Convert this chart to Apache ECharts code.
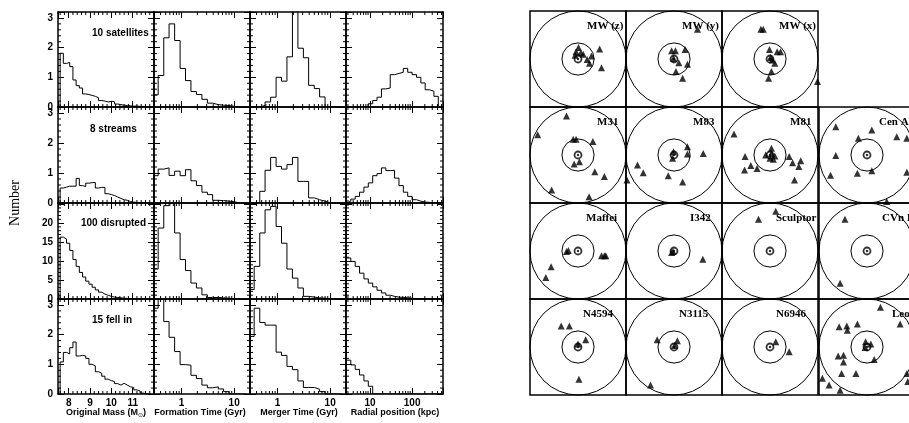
<!DOCTYPE html>
<html><head><meta charset="utf-8">
<script src="https://cdn.jsdelivr.net/npm/echarts@6/dist/echarts.min.js"></script>
<style>html,body{margin:0;padding:0;background:#fff}#c{width:909px;height:423px}</style>
</head><body><div id="c"></div>
<script>
// ---------------- DATA ----------------
// histogram bin edges
const massEdges = [7.6,7.75,7.9,8.05,8.2,8.35,8.5,8.65,8.8,8.95,9.1,9.25,9.4,9.55,9.7,9.85,10.0,10.15,10.3,10.45,10.6,10.75,10.9,11.05,11.2,11.35,11.5,11.65,11.8];
const timeEdges = [0.3,0.36,0.46,0.58,0.74,0.94,1.19,1.51,1.92,2.44,3.1,3.9,5.0,6.3,8.0,10.2,12.9,16.4];
const radEdges  = [2.76,3.51,4.46,5.66,7.19,9.13,11.6,14.7,18.7,23.8,30.2,38.3,48.7,61.8,78.5,99.7,127,161,204,259,329,418,531];

// row labels
const rowLabels = ['10 satellites','8 streams','100 disrupted','15 fell in'];
const colTitles = ['Original Mass','Formation Time (Gyr)','Merger Time (Gyr)','Radial position (kpc)'];
const yTickLabels = [['0','1','2','3'],['0','1','2','3'],['0','5','10','15','20'],['0','1','2','3']];

// Original mass histograms
const mass_sat  = [1.24,1.81,1.47,1.50,1.36,0.91,0.72,0.64,0.44,0.42,0.39,0.36,0.31,0.22,0.20,0.17,0.19,0.18,0.10,0.08,0.06,0.05,0.04,0.03,0.03,0.02,0.02,0.01];
const mass_str  = [0.13,0.5,0.53,0.56,0.56,0.56,0.82,0.58,0.55,0.66,0.68,0.68,0.5,0.52,0.52,0.31,0.28,0.25,0.2,0.15,0.11,0.09,0.05,0.03,0.02,0.01,0.01,0];
const mass_dis  = [11.5,16.3,15.8,14.7,12.8,10.4,8.6,7.0,5.8,4.7,3.9,3.1,2.4,1.8,1.3,1.0,0.7,0.5,0.4,0.3,0.2,0.15,0.1,0.05,0.03,0.02,0,0];
const mass_fell = [0.8,1.08,1.4,1.35,1.56,1.75,1.28,1.3,1.28,1.2,1.0,0.95,0.75,0.7,0.6,0.5,0.45,0.42,0.35,0.3,0.36,0.3,0.24,0.22,0.14,0.1,0.03,0];
// Formation time histograms
const form_sat  = [0.05,0.41,1.06,2.33,2.8,2.24,1.3,0.89,0.52,0.42,0.26,0.13,0.08,0.06,0.05,0.02,0];
const form_str  = [0.11,0.91,1.13,1.17,0.92,1.06,0.91,1.11,0.74,0.58,0.36,0.28,0.09,0.08,0.06,0.04,0];
const form_dis  = [2,7.9,18.7,24.6,28,17.4,10.4,7.5,4.2,2.9,1.1,0.4,0.4,0.3,0.2,0.1,0];
const form_fell = [2.97,2.89,3.6,2.44,1.91,1.43,0.99,0.97,0.63,0.52,0.3,0.21,0.24,0.17,0.08,0,0];
// Merger time histograms
const merg_sat  = [0,0,0,0.05,0.17,0.33,1.0,0.87,1.69,3.6,1.98,1.66,0.73,0.62,0.34,0,0];
const merg_str  = [0,0,0,0.39,1.09,1.52,1.22,1.13,1.28,1.52,0.72,0.72,0.17,0.11,0.06,0,0];
const merg_dis  = [0.7,2.5,8.6,17.4,23.5,24.4,19.1,14.7,7.9,5.5,2.9,0.7,0.5,0.3,0.2,0.1,0];
const merg_fell = [1.74,1.94,2.89,2.41,2.32,2.32,1.41,1.3,0.93,0.82,0.44,0.22,0.22,0.16,0.08,0,0];
// Radial position histograms
const rad_sat  = [0,0,0,0,0,0,0.11,0.22,0.33,0.61,0.64,1.09,1.13,1.17,1.3,1.17,1.09,1.0,0.81,0.58,0.53,0.36];
const rad_str  = [0.02,0.06,0.13,0.22,0.36,0.53,0.67,0.91,0.98,1.17,1.08,1.09,0.83,0.58,0.36,0.22,0.11,0.06,0.03,0.02,0.01,0];
const rad_dis  = [12.5,10.8,9.9,8.6,6.8,5.3,4.2,3.2,2.3,1.6,1.0,0.7,0.5,0.4,0.3,0.2,0.1,0.05,0,0,0,0];
const rad_fell = [1.76,1.14,0.98,0.83,0.64,0.44,0.26,0,0,0,0,0,0,0,0,0,0,0,0,0,0,0];

// Right panel: system names and satellite positions (in units of the outer circle radius)
const cellNames = [['MW (z)','MW (y)','MW (x)',null],['M31','M83','M81','Cen A'],['Maffei','I342','Sculptor','CVn I'],['N4594','N3115','N6946','Leo']];
const tri_MWz = [[0.01,0.24],[-0.04,0.15],[0.06,0.13],[0.11,0.10],[0.19,-0.01],[0.24,-0.09],[0.28,0.06],[0.45,0.21],[0.49,-0.18],[-0.06,0.08]];
const tri_MWy = [[-0.05,0.17],[0.03,0.17],[-0.01,0.01],[0.10,-0.08],[0.23,0.20],[0.28,-0.11],[0.04,-0.26],[0.18,-0.40],[0.49,0.62]];
const tri_MWx = [[-0.19,0.62],[-0.14,0.62],[-0.01,0.20],[0.15,0.15],[0.22,0.15],[0.01,0.03],[0.05,-0.02],[0.10,-0.09],[0.03,-0.26],[-0.03,-0.40],[0.99,-0.47]];
const tri_M31 = [[-0.24,0.81],[-0.84,0.42],[-0.10,0.33],[-0.04,0.33],[0.31,0.28],[-0.08,-0.19],[0.03,-0.14],[0.35,-0.35],[0.55,-0.45],[-0.55,-0.73],[0.23,-0.87]];
const tri_M83 = [[-0.01,0.07],[-0.03,-0.07],[0.28,0.17],[0.28,0.02],[0.61,0.03],[-0.76,-0.21],[-0.64,-0.37],[-0.12,-0.43],[0.18,-0.56],[-0.98,-0.52]];
const tri_M81 = [[-0.75,0.44],[0.03,0.14],[-0.09,0],[0.03,0.03],[0.10,-0.02],[0,-0.07],[0.07,-0.09],[-0.52,-0.03],[-0.40,-0.22],[-0.53,-0.31],[-0.27,-0.28],[0.40,-0.03],[0.47,-0.16],[0.64,-0.12],[0.60,-0.24],[0.51,-0.52]];
const tri_CenA = [[-0.65,0.59],[-0.18,0.35],[0.10,0.52],[0.62,0.38],[0.83,0.35],[-0.65,-0.01],[-0.76,-0.42],[-0.20,-0.38],[0.10,-0.33],[0.83,-0.36],[0.41,-0.97]];
const tri_Maffei = [[-0.24,-0.01],[-0.20,0.01],[0.49,-0.10],[0.55,-0.10],[0.58,-0.10],[-0.56,-0.33],[-0.67,-0.55]];
const tri_I342 = [[-0.05,-0.03],[-0.02,-0.01],[0.60,-0.17]];
const tri_Sculptor = [[-0.24,0.66],[0.12,0.83]];
const tri_CVnI = [[-0.46,0.66],[-0.56,-0.67]];
const tri_N4594 = [[-0.35,0.44],[-0.18,0.44],[0,0.06],[0.16,0.15],[0.02,-0.67]];
const tri_N3115 = [[-0.35,0.15],[0.07,0.13],[0.01,0.03],[-0.49,-0.79]];
const tri_N6946 = [[0.12,0.11],[0.40,-0.10]];
const tri_Leo = [[0.28,0.83],[-0.58,0.42],[-0.42,0.44],[-0.41,0.35],[-0.20,0.48],[0.69,0.48],[-0.03,0.11],[0.08,0.06],[-0.04,-0.01],[0.15,-0.26],[-0.60,-0.19],[-0.49,-0.17],[-0.49,-0.31],[-0.53,-0.55],[-0.23,-0.55],[-0.93,-0.65],[-0.79,-0.79],[-0.56,-0.90],[0.83,-0.55],[0.85,-0.72]];
const cellTris = [[tri_MWz,tri_MWy,tri_MWx,null],[tri_M31,tri_M83,tri_M81,tri_CenA],[tri_Maffei,tri_I342,tri_Sculptor,tri_CVnI],[tri_N4594,tri_N3115,tri_N6946,tri_Leo]];
const circleRadii = [1, 0.335];

// ---------------- LAYOUT ----------------
const HL = [58,154,250,346], HW = [96,96,96,97];
const HT = [12,107,203,299], HH = [95,96,96,95];
const SL = [530,626,722,819], ST = [11,107,203,299], SS = 96;
const labelDX = [[57,56,57,0],[67,67,68,60],[56,64,54,63],[53,53,54,73]];
const rowLabelPos = [[92,33],[90,129],[81,223],[92,320]];
const colTitleX = [106,200,299,395];

// ---------------- BUILD ----------------
const near = (a,b)=>Math.abs(a-b)<1e-6;
function logFmt(v){ const l=Math.log10(v); return near(l,Math.round(l)) ? String(Math.round(Math.pow(10,Math.round(l)))) : ''; }
function rng(a,b,s){ const o=[]; for(let v=a; v<=b+1e-9; v+=s) o.push(+v.toFixed(6)); return o; }
const massMinor = rng(7.6,11.8,0.2).filter(v=>!near(v,Math.round(v)));
const timeMinor = [0.4,0.5,0.6,0.7,0.8,0.9,2,3,4,5,6,7,8,9];
const radMinor = [3,4,5,6,7,8,9,20,30,40,50,60,70,80,90,200,300,400,500];
const histCols = [
  {edges:massEdges, type:'value', min:7.5, max:12, minor:massMinor, fmt:v=>(near(v,Math.round(v))&&v>7.9&&v<11.1)?String(Math.round(v)):''},
  {edges:timeEdges, type:'log', min:0.3, max:20, minor:timeMinor, fmt:logFmt},
  {edges:timeEdges, type:'log', min:0.3, max:20, minor:timeMinor, fmt:logFmt},
  {edges:radEdges, type:'log', min:2.7, max:540, minor:radMinor, fmt:logFmt}
];
const histRows = [
  {max:3.2, interval:1, minor:rng(0.2,3.0,0.2).filter(v=>!near(v,Math.round(v)))},
  {max:3.2, interval:1, minor:rng(0.2,3.0,0.2).filter(v=>!near(v,Math.round(v)))},
  {max:25.3, interval:5, minor:rng(1,24,1).filter(v=>v%5!==0)},
  {max:3.2, interval:1, minor:rng(0.2,3.0,0.2).filter(v=>!near(v,Math.round(v)))}
];
const histVals = [
  [mass_sat, form_sat, merg_sat, rad_sat],
  [mass_str, form_str, merg_str, rad_str],
  [mass_dis, form_dis, merg_dis, rad_dis],
  [mass_fell, form_fell, merg_fell, rad_fell]
];

const lab = {fontFamily:'Liberation Sans', fontWeight:'bold', fontSize:10, color:'#000'};
const option = {animation:false, backgroundColor:'#fff', grid:[], xAxis:[], yAxis:[], series:[], graphic:[]};

function stepData(edges, vals){
  const d=[[edges[0],0]];
  vals.forEach((v,i)=>d.push([edges[i],v]));
  d.push([edges[vals.length],0]);
  return d;
}

for (let r=0;r<4;r++) for (let c=0;c<4;c++){
  const g = option.grid.length;
  option.grid.push({left:HL[c], top:HT[r], width:HW[c], height:HH[r], containLabel:false, outerBoundsMode:'none', show:false});
  const col = histCols[c], row = histRows[r];
  const xb = option.xAxis.length;
  ['bottom','top'].forEach(pos=>{
    const ax = {gridIndex:g, type:col.type, min:col.min, max:col.max, position:pos,
      axisLine:{show:true,onZero:false,lineStyle:{color:'#000',width:1.5}},
      axisTick:{show:true,inside:true,length:6,lineStyle:{color:'#000',width:1}},
      minorTick:{show:false}, splitLine:{show:false},
      axisLabel:Object.assign({show:(pos==='bottom'&&r===3), margin:4, formatter:col.fmt}, lab)};
    if (col.type==='log') ax.logBase = 10;
    option.xAxis.push(ax);
  });
  const yb = option.yAxis.length;
  ['left','right'].forEach(pos=>{
    option.yAxis.push({gridIndex:g, type:'value', min:0, max:row.max, interval:row.interval, position:pos,
      axisLine:{show:true,onZero:false,lineStyle:{color:'#000',width:1.5}},
      axisTick:{show:true,inside:true,length:6,lineStyle:{color:'#000',width:1}},
      minorTick:{show:false}, splitLine:{show:false},
      axisLabel:Object.assign({show:(pos==='left'&&c===0), margin:5,
        formatter:v=>{ const s=String(Math.round(v)); return (near(v,Math.round(v)) && yTickLabels[r].indexOf(s)>=0)? s : ''; }}, lab)});
  });
  option.series.push({type:'line', xAxisIndex:xb, yAxisIndex:yb, step:'start', symbol:'none', silent:true,
    clip:true, data:stepData(col.edges, histVals[r][c]), lineStyle:{color:'#000', width:1}});
  // minor ticks on all four sides
  const mdata = col.minor.map(v=>[v,0,0]).concat(row.minor.map(v=>[col.min*1.0001,v,1]));
  option.series.push({type:'custom', xAxisIndex:xb, yAxisIndex:yb, silent:true, clip:false, data:mdata,
    renderItem(p, api){
      const cs = p.coordSys, k = api.value(2);
      const pt = api.coord([api.value(0), api.value(1)]);
      const st = {stroke:'#000', lineWidth:1};
      if (k===0){
        const x = pt[0];
        return {type:'group', children:[
          {type:'line', shape:{x1:x,y1:cs.y+cs.height,x2:x,y2:cs.y+cs.height-3}, style:st},
          {type:'line', shape:{x1:x,y1:cs.y,x2:x,y2:cs.y+3}, style:st}]};
      }
      const y = pt[1];
      return {type:'group', children:[
        {type:'line', shape:{x1:cs.x,y1:y,x2:cs.x+3,y2:y}, style:st},
        {type:'line', shape:{x1:cs.x+cs.width,y1:y,x2:cs.x+cs.width-3,y2:y}, style:st}]};
    }});
  if (c===0){
    option.graphic.push({type:'text', x:rowLabelPos[r][0], y:rowLabelPos[r][1], silent:true,
      style:{text:rowLabels[r], font:'bold 10px "Liberation Sans"', fill:'#000', verticalAlign:'middle'}});
  }
}

// column titles
colTitles.forEach((t,c)=>{
  if (c===0){
    option.graphic.push({type:'text', x:colTitleX[c], y:413, silent:true,
      style:{text:'{a|Original Mass (M}{b|⊙}{a|)}', align:'center', verticalAlign:'middle',
        rich:{a:{font:'bold 9px "Liberation Sans"', fill:'#000'}, b:{font:'6px "DejaVu Sans"', fill:'#000', padding:[5,0,0,0]}}}});
  } else {
    option.graphic.push({type:'text', x:colTitleX[c], y:413, silent:true,
      style:{text:t, font:'bold 9px "Liberation Sans"', fill:'#000', align:'center', verticalAlign:'middle'}});
  }
});
option.graphic.push({type:'text', x:15, y:203, rotation:Math.PI/2, silent:true,
  style:{text:'Number', font:'14px "Liberation Serif"', fill:'#000', align:'center', verticalAlign:'middle'}});

// right panel
for (let r=0;r<4;r++) for (let c=0;c<4;c++){
  if (!cellNames[r][c]) continue;
  const g = option.grid.length;
  option.grid.push({left:SL[c], top:ST[r], width:SS, height:SS, containLabel:false, outerBoundsMode:'none',
    show:true, borderColor:'#000', borderWidth:1.5, backgroundColor:'transparent'});
  const xi = option.xAxis.length, yi = option.yAxis.length;
  option.xAxis.push({gridIndex:g, type:'value', min:-1, max:1, show:false});
  option.yAxis.push({gridIndex:g, type:'value', min:-1, max:1, show:false});
  option.series.push({type:'custom', xAxisIndex:xi, yAxisIndex:yi, silent:true, clip:false,
    data:circleRadii.map(rr=>[0,0,rr]),
    renderItem(p, api){
      const ctr = api.coord([api.value(0), api.value(1)]);
      const rad = api.size([api.value(2),0])[0];
      return {type:'circle', shape:{cx:ctr[0], cy:ctr[1], r:rad}, style:{fill:'none', stroke:'#000', lineWidth:1}};
    }});
  option.series.push({type:'scatter', xAxisIndex:xi, yAxisIndex:yi, silent:true, clip:false,
    symbol:'circle', symbolSize:7, data:[[0,0]], itemStyle:{color:'#fff', borderColor:'#000', borderWidth:1.8}});
  option.series.push({type:'scatter', xAxisIndex:xi, yAxisIndex:yi, silent:true, clip:false,
    symbol:'circle', symbolSize:2.5, data:[[0,0]], itemStyle:{color:'#000'}});
  option.series.push({type:'scatter', xAxisIndex:xi, yAxisIndex:yi, silent:true, clip:false, z:5,
    symbol:'triangle', symbolSize:7, data:cellTris[r][c], itemStyle:{color:'#000'}});
  option.graphic.push({type:'text', x:SL[c]+labelDX[r][c], y:ST[r]+15, silent:true, z:10,
    style:{text:cellNames[r][c], font:'bold 11px "Liberation Serif"', fill:'#000', verticalAlign:'middle'}});
}

const chart = echarts.init(document.getElementById('c'), null, {renderer:'canvas', width:909, height:423});
chart.setOption(option);
</script>
</body></html>
